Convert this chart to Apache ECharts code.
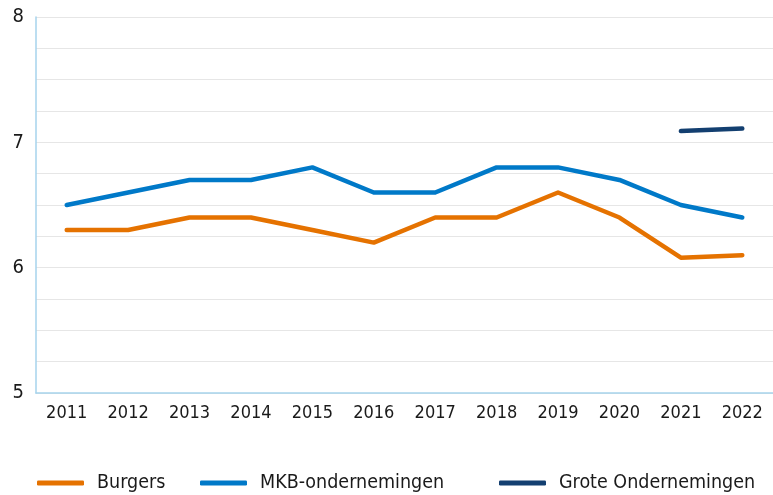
<!DOCTYPE html>
<html><head><meta charset="utf-8">
<script src="https://cdn.jsdelivr.net/npm/echarts@6/dist/echarts.min.js"></script>
<style>html,body{margin:0;padding:0;background:#fff}#c{width:773px;height:495px}</style>
</head><body><div id="c"></div>
<script>
const years = ['2011','2012','2013','2014','2015','2016','2017','2018','2019','2020','2021','2022'];
const burgers = [6.3,6.3,6.4,6.4,6.3,6.2,6.4,6.4,6.6,6.4,6.08,6.1];
const mkb = [6.5,6.6,6.7,6.7,6.8,6.6,6.6,6.8,6.8,6.7,6.5,6.4];
const grote = [null,null,null,null,null,null,null,null,null,null,7.09,7.11];
const names = ['Burgers','MKB-ondernemingen','Grote Ondernemingen'];
const colors = ['#e57200','#0079c8','#133f70'];

const FONT = 'DejaVu Sans Condensed';
const chart = echarts.init(document.getElementById('c'));
const legendLefts = [37, 200, 499];
chart.setOption({
  animation: false,
  textStyle: {fontFamily: FONT},
  grid: {left: 36, right: 0, top: 17, bottom: 102},
  legend: names.map((n, i) => ({
    data: [n], left: legendLefts[i], top: 473, padding: 0,
    icon: 'roundRect', itemWidth: 47, itemHeight: 5, itemGap: 12,
    textStyle: {fontFamily: FONT, fontSize: 19.5, color: '#1a1a1a', padding: [0,0,0,8]}
  })),
  xAxis: {
    type: 'category', data: years, boundaryGap: true,
    axisLine: {lineStyle: {color: '#a6d3ec', width: 1.5}},
    axisTick: {show: false},
    axisLabel: {fontFamily: FONT, fontSize: 18, color: '#1a1a1a', margin: 11}
  },
  yAxis: {
    type: 'value', min: 5, max: 8, interval: 0.25,
    axisLine: {show: true, lineStyle: {color: '#a6d3ec', width: 1.5}},
    axisTick: {show: false},
    splitLine: {lineStyle: {color: '#e6e6e6', width: 1.2}},
    axisLabel: {fontFamily: FONT, fontSize: 20, color: '#1a1a1a', margin: 12,
      formatter: v => Number.isInteger(v) ? String(v) : ''}
  },
  series: [burgers, mkb, grote].map((d, i) => ({
    name: names[i], type: 'line', data: d, showSymbol: false, symbol: 'none',
    color: colors[i],
    lineStyle: {width: 4.5, color: colors[i], cap: 'round', join: 'round'}
  }))
});
</script></body></html>
